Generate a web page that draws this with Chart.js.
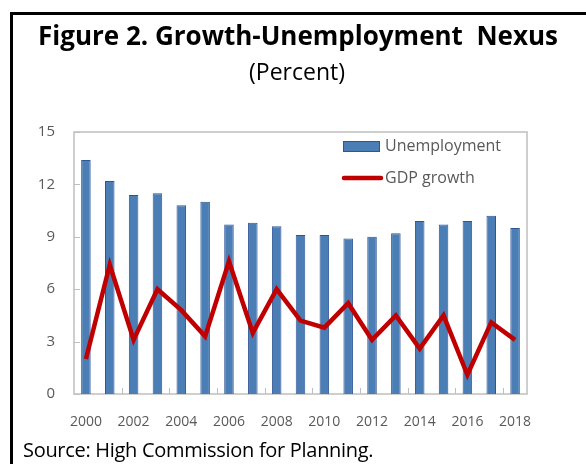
<!DOCTYPE html>
<html>
<head>
<meta charset="utf-8">
<script src="https://cdn.jsdelivr.net/npm/chart.js@4.4.1/dist/chart.umd.min.js"></script>
<style>
  html, body { margin: 0; padding: 0; background: #fff; }
  #wrap { position: relative; width: 586px; height: 464px; overflow: hidden; font-family: "Open Sans", sans-serif; }
  #topline { position: absolute; left: 10px; top: 12px; width: 576px; height: 3px; background: #000; }
  #leftline { position: absolute; left: 10px; top: 12px; width: 3px; height: 452px; background: #000; }
  #title { position: absolute; left: 0; width: 596px; top: 17px; text-align: center; font-weight: 700; font-size: 26px; color: #000; white-space: pre; }
  #sub { position: absolute; left: 0; width: 594px; top: 55px; text-align: center; font-size: 23px; color: #000; }
  #source { position: absolute; left: 23px; top: 436px; font-size: 20px; letter-spacing: -0.3px; color: #000; white-space: nowrap; }
  #chart { position: absolute; left: 0; top: 0; }
</style>
</head>
<body>
<div id="wrap">
  <canvas id="chart" width="586" height="464"></canvas>
  <div id="topline"></div>
  <div id="leftline"></div>
  <div id="title">Figure 2. Growth-Unemployment  Nexus</div>
  <div id="sub">(Percent)</div>
  <div id="source">Source: High Commission for Planning.</div>
</div>
<script>
const years = ["2000","2001","2002","2003","2004","2005","2006","2007","2008","2009",
               "2010","2011","2012","2013","2014","2015","2016","2017","2018"];
const unemployment = [13.4, 12.2, 11.4, 11.5, 10.8, 11.0, 9.7, 9.8, 9.6, 9.1,
                      9.1, 8.9, 9.0, 9.2, 9.9, 9.7, 9.9, 10.2, 9.5];
const gdpGrowth = [2.0, 7.4, 3.1, 6.0, 4.8, 3.3, 7.6, 3.5, 6.0, 4.2,
                   3.8, 5.2, 3.1, 4.5, 2.6, 4.5, 1.1, 4.1, 3.1];
const yTicks = [0, 3, 6, 9, 12, 15];

const axisGray = '#bfbfbf';
const textGray = '#595959';

// plot border + inward tick marks, drawn under the bars
const plotFrame = {
  id: 'plotFrame',
  beforeDatasetsDraw(chart) {
    const { ctx, chartArea: a, scales } = chart;
    ctx.save();
    ctx.strokeStyle = axisGray;
    ctx.lineWidth = 1.5;
    ctx.strokeRect(a.left, a.top, a.right - a.left, a.bottom - a.top);
    ctx.lineWidth = 1;
    ctx.beginPath();
    yTicks.forEach(v => {
      const y = Math.round(scales.y.getPixelForValue(v)) + 0.5;
      ctx.moveTo(a.left, y);
      ctx.lineTo(a.left + 6, y);
    });
    for (let i = 2; i < years.length; i += 2) {
      const x = Math.round((scales.x.getPixelForValue(i - 1) + scales.x.getPixelForValue(i)) / 2) + 0.5;
      ctx.moveTo(x, a.bottom);
      ctx.lineTo(x, a.bottom - 6);
    }
    ctx.stroke();
    ctx.restore();
  }
};

// legend inside the plot, top right
const innerLegend = {
  id: 'innerLegend',
  afterDraw(chart) {
    const ctx = chart.ctx;
    const bar = chart.data.datasets[1];
    const line = chart.data.datasets[0];
    const x = 343;
    ctx.save();
    ctx.fillStyle = bar.backgroundColor;
    ctx.strokeStyle = bar.borderColor;
    ctx.lineWidth = 1;
    ctx.fillRect(x, 141, 37, 10);
    ctx.strokeRect(x + 0.5, 141.5, 36, 10);
    ctx.strokeStyle = line.borderColor;
    ctx.lineWidth = 4.5;
    ctx.lineCap = 'round';
    ctx.beginPath();
    ctx.moveTo(x + 1, 178);
    ctx.lineTo(x + 38, 178);
    ctx.stroke();
    ctx.fillStyle = textGray;
    ctx.font = '16px "Open Sans"';
    ctx.textBaseline = 'middle';
    ctx.fillText(bar.label, 385, 146);
    ctx.fillText(line.label, 385, 178);
    ctx.restore();
  }
};

new Chart(document.getElementById('chart'), {
  type: 'bar',
  data: {
    labels: years,
    datasets: [
      {
        type: 'line',
        label: 'GDP growth',
        data: gdpGrowth,
        borderColor: '#c00000',
        borderWidth: 4.5,
        pointRadius: 0,
        tension: 0,
        order: 1
      },
      {
        label: 'Unemployment',
        data: unemployment,
        backgroundColor: '#4a7eb4',
        borderColor: '#2f5597',
        borderWidth: 1,
        barPercentage: 0.4,
        categoryPercentage: 1,
        order: 2
      }
    ]
  },
  options: {
    responsive: false,
    animation: false,
    layout: { padding: { left: 20, top: 132, right: 59, bottom: 32 } },
    plugins: { legend: { display: false }, tooltip: { enabled: false } },
    scales: {
      x: {
        grid: { display: false },
        border: { display: false },
        ticks: {
          autoSkip: false,
          maxRotation: 0,
          padding: 12,
          color: textGray,
          font: { family: 'Open Sans', size: 14 },
          callback: (v, i) => (i % 2 === 0 ? years[i] : '')
        },
        afterFit: s => { s.height = 38; }
      },
      y: {
        min: 0,
        max: 15,
        grid: { display: false },
        border: { display: false },
        ticks: {
          stepSize: 3,
          padding: 11,
          color: textGray,
          font: { family: 'Open Sans', size: 15 }
        },
        afterFit: s => { s.width = 54; }
      }
    }
  },
  plugins: [plotFrame, innerLegend]
});
</script>
</body>
</html>
